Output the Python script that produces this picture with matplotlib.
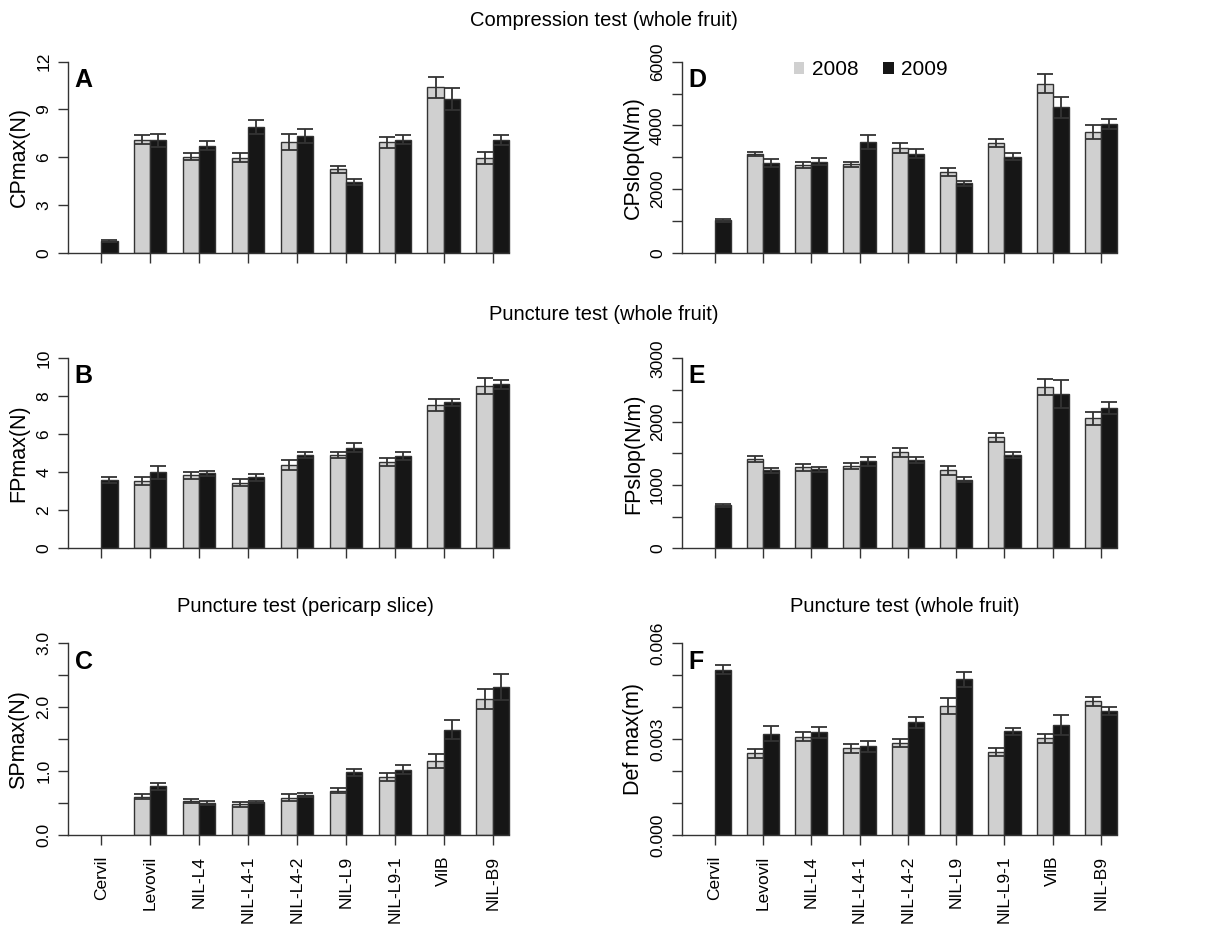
import numpy as np
import matplotlib
matplotlib.use('Agg')
import matplotlib.pyplot as plt
from matplotlib.patches import Patch

plt.rcParams['font.family'] = ['Liberation Sans', 'DejaVu Sans']

nan = np.nan
cultivars = ['Cervil', 'Levovil', 'NIL-L4', 'NIL-L4-1', 'NIL-L4-2',
             'NIL-L9', 'NIL-L9-1', 'VilB', 'NIL-B9']

# means and standard errors, 2008 and 2009 harvests
cpmax_08 = [nan, 7.11, 6.04, 5.98, 6.95, 5.23, 6.93, 10.38, 5.95]
cpmax_08_se = [nan, 0.28, 0.24, 0.28, 0.52, 0.24, 0.36, 0.68, 0.40]
cpmax_09 = [0.73, 7.06, 6.72, 7.90, 7.35, 4.44, 7.10, 9.64, 7.08]
cpmax_09_se = [0.04, 0.40, 0.27, 0.43, 0.44, 0.17, 0.27, 0.68, 0.31]

cpslop_08 = [nan, 3110, 2759, 2775, 3293, 2539, 3450, 5303, 3790]
cpslop_08_se = [nan, 63, 99, 84, 162, 120, 120, 298, 220]
cpslop_09 = [1021, 2816, 2858, 3471, 3115, 2178, 3015, 4565, 4047]
cpslop_09_se = [47, 126, 115, 225, 141, 84, 115, 325, 162]

fpmax_08 = [nan, 3.54, 3.85, 3.45, 4.37, 4.92, 4.54, 7.54, 8.53]
fpmax_08_se = [nan, 0.21, 0.18, 0.17, 0.25, 0.17, 0.21, 0.33, 0.42]
fpmax_09 = [3.60, 4.00, 3.95, 3.74, 4.93, 5.30, 4.88, 7.68, 8.62]
fpmax_09_se = [0.15, 0.35, 0.14, 0.19, 0.16, 0.25, 0.21, 0.20, 0.25]

fpslop_08 = [nan, 1410, 1276, 1297, 1513, 1232, 1755, 2550, 2050]
fpslop_08_se = [nan, 53, 50, 45, 71, 74, 71, 129, 108]
fpslop_09 = [682, 1229, 1245, 1371, 1392, 1082, 1474, 2437, 2218]
fpslop_09_se = [24, 34, 40, 71, 50, 39, 53, 221, 97]

spmax_08 = [nan, 0.60, 0.535, 0.48, 0.58, 0.69, 0.91, 1.16, 2.13]
spmax_08_se = [nan, 0.04, 0.03, 0.035, 0.055, 0.04, 0.06, 0.11, 0.16]
spmax_09 = [nan, 0.76, 0.50, 0.52, 0.62, 0.98, 1.02, 1.65, 2.32]
spmax_09_se = [nan, 0.06, 0.035, 0.012, 0.03, 0.05, 0.07, 0.15, 0.20]

defmax_08 = [nan, 0.002562, 0.003068, 0.002708, 0.00289, 0.004038,
             0.002609, 0.003026, 0.004179]
defmax_08_se = [nan, 0.00014, 0.00014, 0.00014, 0.000125, 0.00024,
                0.000125, 0.000136, 0.00014]
defmax_09 = [0.00517, 0.003172, 0.003209, 0.00277, 0.003522, 0.004868,
             0.003245, 0.003438, 0.003882]
defmax_09_se = [0.00014, 0.00024, 0.00016, 0.00016, 0.00016, 0.00023,
                0.000115, 0.00032, 0.000125]

GRAY = '#d0d0d0'
BLACK = '#161616'
EDGE = '#333333'
W = 1 / 3


def draw_year(ax, x, vals, errs, offset, color):
    vals, errs = np.array(vals, float), np.array(errs, float)
    ok = ~np.isnan(vals)
    ax.bar(x[ok] + offset, vals[ok], W, color=color, edgecolor=EDGE,
           linewidth=1.0)
    ax.errorbar(x[ok] + offset, vals[ok], yerr=errs[ok], fmt='none',
                ecolor=EDGE, elinewidth=1.3, capsize=6, capthick=1.3)


def bar_panel(ax, v08, s08, v09, s09, ylabel, letter, top, step, labeled, fmt,
              xlabels=False):
    x = np.arange(len(cultivars))
    draw_year(ax, x, v08, s08, -W / 2, GRAY)
    draw_year(ax, x, v09, s09, W / 2, BLACK)

    ax.set_xlim(-0.68, 8.68)
    ax.set_ylim(0, top)
    for s in ['top', 'right']:
        ax.spines[s].set_visible(False)
    ax.spines['left'].set_bounds(0, top)
    ax.spines['bottom'].set_bounds(-0.68, 8 + W)
    for s in ['left', 'bottom']:
        ax.spines[s].set_color(EDGE)
        ax.spines[s].set_linewidth(1.0)

    yt = np.arange(0, top + step / 2, step)
    ax.set_yticks(yt)
    ax.set_yticklabels([fmt.format(t) if any(np.isclose(t, labeled)) else ''
                        for t in yt], rotation=90, va='center', fontsize=12.5)
    ax.set_xticks(x)
    if xlabels:
        ax.set_xticklabels(cultivars, rotation=90, fontsize=12.5)
    else:
        ax.set_xticklabels([])
    ax.tick_params(length=7, width=1.0, color=EDGE, pad=5)
    ax.tick_params(axis='x', pad=8)

    ax.set_ylabel(ylabel, fontsize=15.5, va='center')
    ax.yaxis.set_label_coords(-0.107, 0.5)
    ax.text(0.015, 0.905, letter, transform=ax.transAxes, fontsize=18,
            fontweight='bold', ha='left', va='center')


fig = plt.figure(figsize=(12.07, 9.26), dpi=100)
left_x, right_x = 0.0563, 0.5648
col_w = [0.3795, 0.3747]
rows = [(0.7271, 0.2063), (0.4079, 0.2052), (0.0983, 0.2070)]

axA = fig.add_axes([left_x, rows[0][0], col_w[0], rows[0][1]])
axD = fig.add_axes([right_x, rows[0][0], col_w[1], rows[0][1]])
axB = fig.add_axes([left_x, rows[1][0], col_w[0], rows[1][1]])
axE = fig.add_axes([right_x, rows[1][0], col_w[1], rows[1][1]])
axC = fig.add_axes([left_x, rows[2][0], col_w[0], rows[2][1]])
axF = fig.add_axes([right_x, rows[2][0], col_w[1], rows[2][1]])

bar_panel(axA, cpmax_08, cpmax_08_se, cpmax_09, cpmax_09_se, 'CPmax(N)', 'A',
          12, 3, [0, 3, 6, 9, 12], '{:.0f}')
bar_panel(axD, cpslop_08, cpslop_08_se, cpslop_09, cpslop_09_se,
          'CPslop(N/m)', 'D', 6000, 1000, [0, 2000, 4000, 6000], '{:.0f}')
bar_panel(axB, fpmax_08, fpmax_08_se, fpmax_09, fpmax_09_se, 'FPmax(N)', 'B',
          10, 2, [0, 2, 4, 6, 8, 10], '{:.0f}')
bar_panel(axE, fpslop_08, fpslop_08_se, fpslop_09, fpslop_09_se,
          'FPslop(N/m)', 'E', 3000, 500, [0, 1000, 2000, 3000], '{:.0f}')
bar_panel(axC, spmax_08, spmax_08_se, spmax_09, spmax_09_se, 'SPmax(N)', 'C',
          3.0, 0.5, [0, 1, 2, 3], '{:.1f}', xlabels=True)
bar_panel(axF, defmax_08, defmax_08_se, defmax_09, defmax_09_se, 'Def max(m)',
          'F', 0.006, 0.001, [0, 0.003, 0.006], '{:.3f}', xlabels=True)

# section titles
fig.text(0.5, 1 - 20 / 926, 'Compression test (whole fruit)', fontsize=14.5,
         ha='center', va='center')
fig.text(0.5, 1 - 314 / 926, 'Puncture test (whole fruit)', fontsize=14.5,
         ha='center', va='center')
fig.text(305 / 1207, 1 - 607 / 926, 'Puncture test (pericarp slice)',
         fontsize=14.5, ha='center', va='center')
fig.text(905 / 1207, 1 - 607 / 926, 'Puncture test (whole fruit)',
         fontsize=14.5, ha='center', va='center')

handles = [Patch(facecolor=GRAY, edgecolor='none', label='2008'),
           Patch(facecolor=BLACK, edgecolor='none', label='2009')]
axD.legend(handles=handles, ncol=2, frameon=False, fontsize=15,
           loc='center left', bbox_to_anchor=(0.23, 0.957),
           handlelength=0.5, handleheight=0.5, handletextpad=0.35,
           columnspacing=1.2, borderaxespad=0)

plt.savefig('out.png', dpi=100)
